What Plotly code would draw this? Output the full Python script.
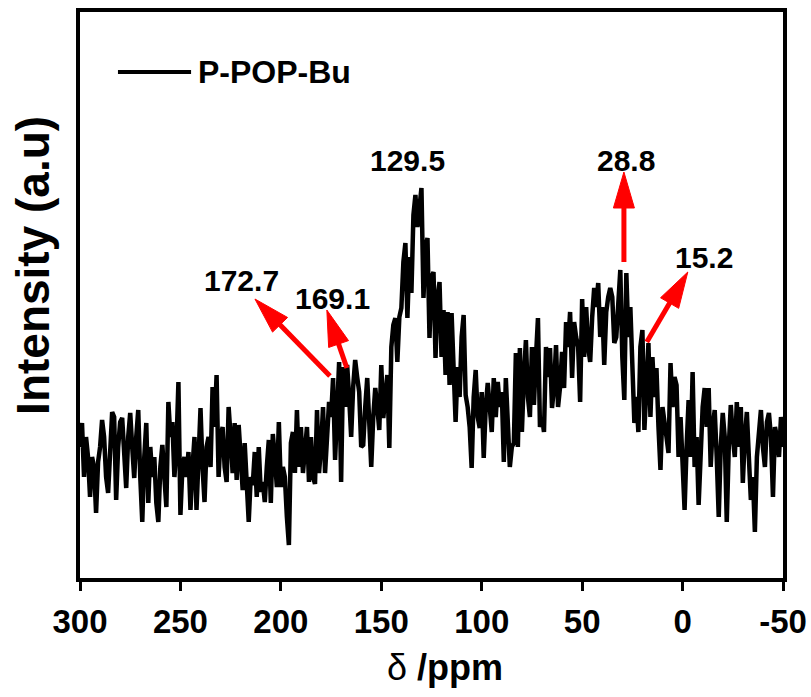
import math
import numpy as np
import plotly.graph_objects as go

# 13C CP/MAS NMR spectrum of P-POP-Bu (1 ppm step, 300 -> -50 ppm)
intensity = [
    130,                                               # 300
    154, 100, 140, 120, 80, 120, 110, 64, 115, 130,    # 299-290
    157, 140, 100, 84, 130, 165, 160, 77, 130, 155,    # 289-280
    159, 120, 89, 140, 164, 130, 99, 140, 167, 100,    # 279-270
    55, 120, 154, 74, 130, 100, 120, 74, 55, 110,      # 269-260
    132, 100, 70, 175, 140, 155, 100, 130, 195, 62,    # 259-250
    110, 120, 100, 125, 67, 110, 140, 67, 120, 169,    # 249-240
    110, 75, 130, 140, 110, 190, 150, 202, 100, 140,   # 239-230
    150, 110, 95, 170, 140, 104, 154, 97, 152, 110,    # 229-220
    87, 134, 100, 55, 100, 92, 125, 80, 130, 85,       # 219-210
    95, 75, 110, 137, 74, 143, 120, 90, 155, 90,       # 209-200
    110, 100, 60, 32, 134, 145, 104, 167, 110, 150,    # 199-190
    104, 130, 150, 95, 140, 100, 93, 167, 104, 130,    # 189-180
    170, 104, 150, 175, 160, 199, 117, 180, 215, 95,   # 179-170
    210, 170, 212, 180, 140, 190, 217, 200, 185, 130,  # 169-160
    132, 170, 199, 155, 110, 160, 189, 170, 147, 212,  # 159-150
    159, 180, 202, 129, 230, 252, 259, 215, 260, 269,  # 149-140
    315, 334, 259, 320, 284, 362, 382, 350, 370, 389,  # 139-130
    279, 330, 339, 239, 300, 305, 219, 280, 295, 220,  # 129-120
    267, 202, 265, 192, 264, 200, 155, 210, 180, 240,  # 119-110
    262, 182, 170, 150, 109, 180, 207, 160, 149, 185,  # 109-100
    119, 170, 194, 170, 145, 199, 160, 195, 170, 185,  # 99-90
    115, 199, 150, 110, 130, 134, 224, 130, 229, 145,  # 89-80
    200, 237, 180, 160, 230, 172, 220, 259, 150, 160,  # 79-70
    145, 230, 200, 229, 169, 190, 232, 170, 190, 225,  # 69-60
    189, 255, 230, 265, 199, 255, 240, 230, 175, 278,  # 59-50
    220, 270, 230, 215, 260, 289, 270, 294, 240, 270,  # 49-40
    212, 265, 280, 289, 280, 234, 240, 275, 307, 220,  # 39-30
    177, 304, 240, 270, 200, 154, 180, 145, 230, 247,  # 29-20
    147, 190, 234, 160, 220, 180, 209, 150, 107, 170,  # 19-10
    150, 140, 124, 214, 170, 200, 192, 120, 160, 110,  # 9-0
    67, 130, 177, 120, 205, 110, 140, 72, 130, 170,    # -1 to -10
    189, 150, 189, 110, 150, 167, 120, 60, 130, 164,   # -11 to -20
    140, 55, 130, 172, 140, 120, 175, 130, 170, 94,    # -21 to -30
    140, 165, 120, 77, 100, 45, 120, 150, 167, 130,    # -31 to -40
    110, 155, 164, 140, 80, 150, 140, 120, 160, 130,   # -41 to -50
]
ppm = 300 - np.arange(len(intensity))

x_ticks = [300, 250, 200, 150, 100, 50, 0, -50]
series_name = "P-POP-Bu"

# peak labels: (text, ppm, intensity)
peak_labels = [("129.5", 137.2, 417), ("28.8", 28.2, 417), ("15.2", -10.6, 320),
               ("172.7", 219.4, 297), ("169.1", 174.1, 279)]
# arrows: tip (ppm, intensity) and tail offset in screen pixels (dx right, dy down)
arrows = [(29.2, 405, 0, 90), (-2.6, 305, -41, 70), (212.9, 278, 75, 77), (177.1, 267, 20, 58)]

FONT = "Liberation Sans, Arial, sans-serif"

fig = go.Figure()
fig.add_trace(go.Scatter(x=ppm, y=intensity, mode="lines", name=series_name,
                         line=dict(color="black", width=4.5), showlegend=False))

for txt, px_, py_ in peak_labels:
    fig.add_annotation(x=px_, y=py_, xref="x", yref="y", text=f"<b>{txt}</b>", showarrow=False,
                       font=dict(family=FONT, size=30, color="black"),
                       xanchor="center", yanchor="middle")


def add_arrow(x, y, dx, dy, L=36, W=21, shaft=5, color="red"):
    tx, ty = dx, -dy  # pixel-shape coordinates (y up)
    n = math.hypot(tx, ty)
    ux, uy = -tx / n, -ty / n          # tail -> tip direction
    bx, by = -ux * L, -uy * L          # base centre of head
    qx, qy = -uy, ux                   # perpendicular
    c1 = (bx + qx * W / 2, by + qy * W / 2)
    c2 = (bx - qx * W / 2, by - qy * W / 2)
    common = dict(xref="x", yref="y", xsizemode="pixel", ysizemode="pixel", xanchor=x, yanchor=y)
    fig.add_shape(type="line", x0=tx, y0=ty, x1=bx * 0.9, y1=by * 0.9,
                  line=dict(color=color, width=shaft), **common)
    fig.add_shape(type="path", path=f"M0,0 L{c1[0]:.2f},{c1[1]:.2f} L{c2[0]:.2f},{c2[1]:.2f} Z",
                  fillcolor=color, line=dict(color=color, width=1), **common)


for a in arrows:
    add_arrow(*a)

# manual legend entry (long line sample as in the original)
fig.add_shape(type="line", xref="paper", yref="paper", x0=0.054, x1=0.158, y0=0.894, y1=0.894,
              line=dict(color="black", width=4))
fig.add_annotation(xref="paper", yref="paper", x=0.165, y=0.894, text=f"<b>{series_name}</b>",
                   showarrow=False, xanchor="left", yanchor="middle",
                   font=dict(family=FONT, size=32, color="black"))

# axis titles
fig.add_annotation(xref="paper", yref="paper", x=-0.067, y=0.553, text="<b>Intensity (a.u)</b>",
                   textangle=-90, showarrow=False, xanchor="center", yanchor="middle",
                   font=dict(family=FONT, size=46, color="black"))
fig.add_annotation(xref="paper", yref="paper", x=0.519, y=-0.159, text="δ <b>/ppm</b>",
                   showarrow=False, xanchor="center", yanchor="middle",
                   font=dict(family=FONT, size=36, color="black"))

fig.update_xaxes(range=[300, -50], tickmode="array", tickvals=x_ticks,
                 ticktext=[str(v) for v in x_ticks], automargin=False,
                 ticks="outside", ticklen=9, tickwidth=3, tickcolor="black",
                 ticklabelstandoff=2,
                 showline=True, linewidth=4, linecolor="black", mirror=True,
                 showgrid=False, zeroline=False,
                 tickfont=dict(family=FONT, size=33, color="black", weight="bold"))
fig.update_yaxes(range=[-1, 565], showticklabels=False, ticks="", automargin=False,
                 showline=True, linewidth=4, linecolor="black", mirror=True,
                 showgrid=False, zeroline=False)

fig.update_layout(width=811, height=697, plot_bgcolor="white", paper_bgcolor="white",
                  margin=dict(l=80, r=28, t=12, b=119), showlegend=False)

# remove the default page margin so the 811x697 figure fills the window exactly
fig.write_html("out.html", config={"displayModeBar": False},
               post_script="document.body.style.margin='0';document.body.style.overflow='hidden';")
